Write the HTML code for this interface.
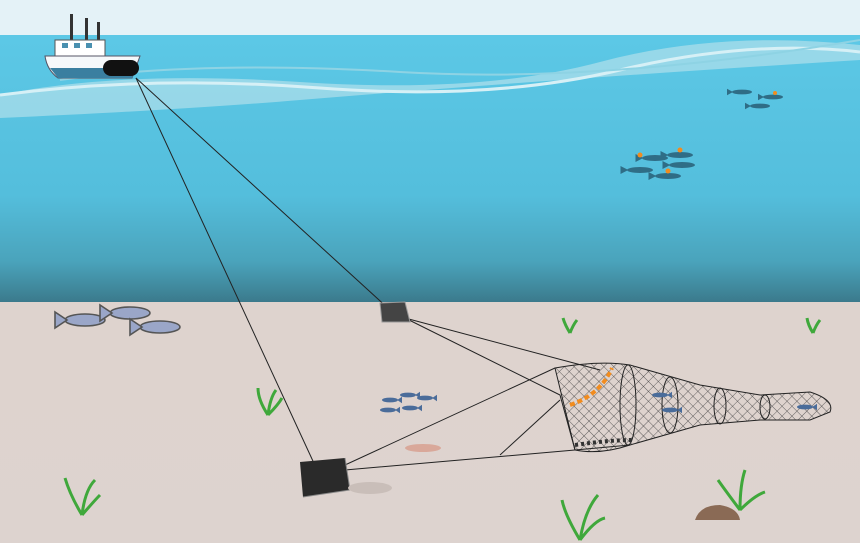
<!DOCTYPE html>
<html><head><style>html,body{margin:0;padding:0;background:#fff}svg{display:block}</style></head>
<body>
<svg width="860" height="543" viewBox="0 0 860 543" xmlns="http://www.w3.org/2000/svg">
<defs>
<linearGradient id="w" x1="0" y1="0" x2="0" y2="1">
<stop offset="0" stop-color="#5cc8e6"/><stop offset="0.6" stop-color="#54bedc"/><stop offset="0.85" stop-color="#4aa3bb"/><stop offset="1" stop-color="#3b7a8c"/></linearGradient>
<linearGradient id="s" x1="0" y1="0" x2="0" y2="1">
<stop offset="0" stop-color="#e0d3cd"/><stop offset="1" stop-color="#ddd3cf"/></linearGradient>
<pattern id="mesh" width="7" height="7" patternUnits="userSpaceOnUse" patternTransform="rotate(45)">
<path d="M0 0H7M0 0V7" stroke="#333" stroke-width="0.7"/></pattern>
<g id="f"><ellipse cx="0" cy="0" rx="10" ry="3"/><path d="M9 0 L15 -4 L15 4Z"/></g>
</defs>
<rect width="860" height="543" fill="url(#s)"/>
<rect width="860" height="36" fill="#e4f2f7"/>
<rect y="35" width="860" height="267" fill="url(#w)"/>
<path d="M0 95 Q120 70 300 82 T600 62 T860 45 V60 Q700 70 560 80 T300 100 T0 118Z" fill="#a6dcea" opacity="0.8"/>
<path d="M0 95 Q150 75 320 88 T620 70 T860 52" stroke="#d6f0f6" stroke-width="3" fill="none"/>
<path d="M60 80 Q200 60 400 72 T860 40" stroke="#8ed3e4" stroke-width="2" fill="none"/>
<!-- boat -->
<rect x="70" y="14" width="3" height="28" fill="#333"/><rect x="85" y="18" width="3" height="24" fill="#333"/><rect x="97" y="22" width="3" height="20" fill="#333"/>
<rect x="55" y="40" width="50" height="16" fill="#fff" stroke="#555"/>
<rect x="62" y="43" width="6" height="5" fill="#4a90b0"/><rect x="74" y="43" width="6" height="5" fill="#4a90b0"/><rect x="86" y="43" width="6" height="5" fill="#4a90b0"/>
<path d="M45 56 H140 L132 78 H58 Q47 70 45 56Z" fill="#f5f8fa" stroke="#556"/>
<path d="M50 68 H136 L132 78 H58Z" fill="#3a7fa0"/>
<rect x="103" y="60" width="36" height="16" rx="8" fill="#111"/>
<!-- cables -->
<g stroke="#222" stroke-width="1" fill="none">
<path d="M136 78 L318 472"/><path d="M136 78 L390 310"/>
<path d="M345 470 L575 450 L630 445"/><path d="M345 465 L555 368"/>
<path d="M405 318 L600 370"/><path d="M405 318 L560 395 L575 450"/>
<path d="M500 455 L560 400"/>
</g>
<!-- doors -->
<path d="M300 462 L345 458 L350 490 L303 497Z" fill="#2a2a2a"/><path d="M303 497 L350 490 L345 458" fill="none" stroke="#888"/>
<ellipse cx="370" cy="488" rx="22" ry="6" fill="#c9beb9"/>
<path d="M380 303 L405 302 L410 322 L382 322Z" fill="#444" stroke="#999"/>
<!-- net -->
<path d="M555 368 Q600 360 630 365 L700 385 L760 395 L810 392 Q835 400 830 412 L810 420 L760 420 L700 425 L630 445 Q600 455 575 450 Z" fill="url(#mesh)" stroke="#222"/>
<g fill="none" stroke="#222">
<ellipse cx="628" cy="405" rx="8" ry="40"/><ellipse cx="670" cy="405" rx="8" ry="28"/><ellipse cx="720" cy="406" rx="6" ry="18"/><ellipse cx="765" cy="407" rx="5" ry="12"/>
</g>
<path d="M570 405 Q600 395 612 368" stroke="#f28c1e" stroke-width="4" fill="none" stroke-dasharray="5 3"/>
<path d="M575 445 Q610 440 632 440" stroke="#333" stroke-width="4" fill="none" stroke-dasharray="3 3"/>
<!-- fish -->
<g fill="#9aa6c8" stroke="#555" stroke-width="0.8">
<use href="#f" transform="translate(85,320) scale(-2,2)"/><use href="#f" transform="translate(130,313) scale(-2,2)"/><use href="#f" transform="translate(160,327) scale(-2,2)"/>
</g>
<g fill="#4a6c9a">
<use href="#f" transform="translate(390,400) scale(0.8)"/><use href="#f" transform="translate(408,395) scale(0.8)"/><use href="#f" transform="translate(425,398) scale(0.8)"/><use href="#f" transform="translate(388,410) scale(0.8)"/><use href="#f" transform="translate(410,408) scale(0.8)"/>
<use href="#f" transform="translate(660,395) scale(0.8)"/><use href="#f" transform="translate(670,410) scale(0.8)"/><use href="#f" transform="translate(805,407) scale(0.8)"/>
</g>
<g fill="#2f6d86">
<use href="#f" transform="translate(640,170) scale(-1.3,1)"/><use href="#f" transform="translate(655,158) scale(-1.3,1)"/><use href="#f" transform="translate(680,155) scale(-1.3,1)"/><use href="#f" transform="translate(668,176) scale(-1.3,1)"/><use href="#f" transform="translate(682,165) scale(-1.3,1)"/>
<use href="#f" transform="translate(742,92) scale(-1,0.8)"/><use href="#f" transform="translate(773,97) scale(-1,0.8)"/><use href="#f" transform="translate(760,106) scale(-1,0.8)"/>
</g>
<g fill="#f28c1e"><circle cx="640" cy="155" r="2.5"/><circle cx="680" cy="150" r="2.5"/><circle cx="668" cy="171" r="2.5"/><circle cx="775" cy="93" r="2"/></g>
<ellipse cx="423" cy="448" rx="18" ry="4" fill="#d9a89a"/>
<!-- plants -->
<g stroke="#3fa83b" stroke-width="3" fill="none">
<path d="M82 515 Q70 495 65 478M82 515 Q85 490 95 480M82 515 Q95 500 100 495"/>
<path d="M268 415 Q258 400 258 388M268 415 Q270 398 276 390M268 415 Q278 405 282 398"/>
<path d="M580 540 Q565 515 562 500M580 540 Q585 510 598 495M580 540 Q595 520 605 518"/>
<path d="M740 510 Q725 490 718 480M740 510 Q740 485 745 470M740 510 Q755 495 765 492"/>
<path d="M570 333 Q565 325 563 318M570 333 Q573 325 577 320"/>
<path d="M813 333 Q808 325 807 318M813 333 Q816 325 820 320"/>
</g>
<path d="M695 520 Q700 505 720 505 Q738 508 740 520Z" fill="#8a6a55"/>
</svg>
</body></html>
